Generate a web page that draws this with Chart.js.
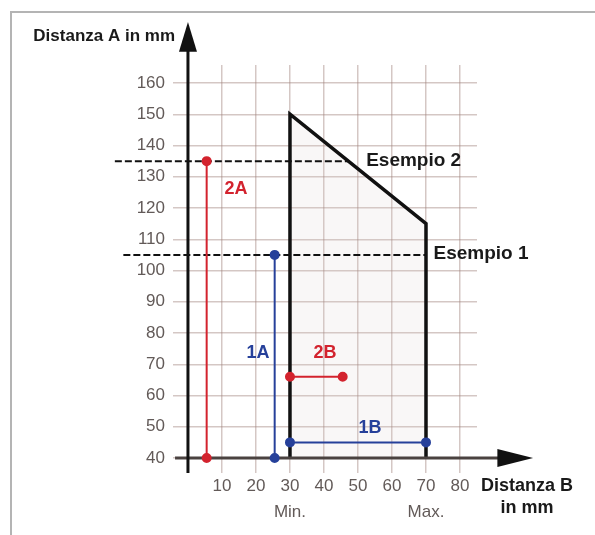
<!DOCTYPE html>
<html>
<head>
<meta charset="utf-8">
<script src="https://cdn.jsdelivr.net/npm/chart.js@4/dist/chart.umd.min.js"></script>
<style>
  body { margin: 0; background: #fff; }
  #wrap { position: relative; width: 595px; height: 535px; overflow: hidden; }
  #frame { position: absolute; left: 10px; top: 11px; width: 600px; height: 600px; border-left: 2px solid #b4b4b4; border-top: 2px solid #b4b4b4; }
  canvas { position: absolute; left: 0; top: 0; }
</style>
</head>
<body>
<div id="wrap"><div id="frame"></div><canvas id="chart" width="595" height="535"></canvas></div>
<script>
// tick labels
const xTicks = [10, 20, 30, 40, 50, 60, 70, 80];
const yTicks = [40, 50, 60, 70, 80, 90, 100, 110, 120, 130, 140, 150, 160];
const xTickNotes = { 30: 'Min.', 70: 'Max.' };

// allowed area (Distanza B vs Distanza A)
const areaX = [30, 30, 70, 70];
const areaY = [40, 150, 115, 40];

// Esempio 1 / Esempio 2 dashed lines
const esempio1X = [-19, 70];
const esempio1Y = [105, 105];
const esempio2X = [-21.5, 47.1];
const esempio2Y = [135, 135];

// measurement lines
const x1A = [25.5, 25.5];
const y1A = [40, 105];
const x1B = [30, 70];
const y1B = [45, 45];
const x2A = [5.5, 5.5];
const y2A = [40, 135];
const x2B = [30, 45.5];
const y2B = [66, 66];

// axis lines
const yAxisX = [0, 0];
const yAxisY = [35.2, 170.5];
const xAxisX = [-3.8, 91.5];
const xAxisY = [40, 40];

const red = '#d3232e';
const blue = '#26409a';

function pts(xs, ys) {
  return xs.map((x, i) => ({ x: x, y: ys[i] }));
}

function seg(xs, ys, color, width, opts) {
  return Object.assign({
    data: pts(xs, ys),
    showLine: true,
    borderColor: color,
    backgroundColor: color,
    borderWidth: width,
    pointRadius: 0,
    clip: false
  }, opts || {});
}

const texts = [
  { t: 'Distanza A in mm', x: -3.8, y: 175, align: 'right', font: 'bold 17px "Liberation Sans", Arial', color: '#1a1a1a' },
  { t: 'Distanza B', x: 99.7, y: 31, align: 'center', font: 'bold 18px "Liberation Sans", Arial', color: '#1a1a1a' },
  { t: 'in mm', x: 99.7, y: 24, align: 'center', font: 'bold 18px "Liberation Sans", Arial', color: '#1a1a1a' },
  { t: 'Esempio 2', x: 52.4, y: 135.2, align: 'left', font: 'bold 19px "Liberation Sans", Arial', color: '#1a1a1a' },
  { t: 'Esempio 1', x: 72.2, y: 105.3, align: 'left', font: 'bold 19px "Liberation Sans", Arial', color: '#1a1a1a' },
  { t: '2A', x: 14.1, y: 126.2, align: 'center', font: 'bold 18px "Liberation Sans", Arial', color: red },
  { t: '1A', x: 20.6, y: 73.6, align: 'center', font: 'bold 18px "Liberation Sans", Arial', color: blue },
  { t: '2B', x: 40.3, y: 73.6, align: 'center', font: 'bold 18px "Liberation Sans", Arial', color: red },
  { t: '1B', x: 53.5, y: 49.6, align: 'center', font: 'bold 18px "Liberation Sans", Arial', color: blue }
];

const decor = {
  id: 'decor',
  afterDatasetsDraw(chart) {
    const ctx = chart.ctx;
    const xs = chart.scales.x;
    const ys = chart.scales.y;
    ctx.save();
    // arrow heads
    ctx.fillStyle = '#111';
    let cx = xs.getPixelForValue(0);
    let tip = ys.getPixelForValue(179.5);
    let base = ys.getPixelForValue(170);
    ctx.beginPath();
    ctx.moveTo(cx, tip);
    ctx.lineTo(cx + 9, base);
    ctx.lineTo(cx - 9, base);
    ctx.closePath();
    ctx.fill();
    let cy = ys.getPixelForValue(40);
    tip = xs.getPixelForValue(101.5);
    base = xs.getPixelForValue(91);
    ctx.beginPath();
    ctx.moveTo(tip, cy);
    ctx.lineTo(base, cy - 9);
    ctx.lineTo(base, cy + 9);
    ctx.closePath();
    ctx.fill();
    // texts
    ctx.textBaseline = 'middle';
    texts.forEach(d => {
      ctx.font = d.font;
      ctx.fillStyle = d.color;
      ctx.textAlign = d.align;
      ctx.fillText(d.t, xs.getPixelForValue(d.x), ys.getPixelForValue(d.y));
    });
    ctx.restore();
  }
};

const tickFont = { family: '"Liberation Sans", Arial', size: 17, lineHeight: 1.5 };
const gridColor = 'rgba(160, 130, 125, 0.45)';

new Chart(document.getElementById('chart'), {
  type: 'scatter',
  data: {
    datasets: [
      seg(x2A, y2A, red, 2, { pointRadius: 4, order: 1 }),
      seg(x2B, y2B, red, 2, { pointRadius: 4, order: 1 }),
      seg(x1A, y1A, blue, 2, { pointRadius: 4, order: 1 }),
      seg(x1B, y1B, blue, 2, { pointRadius: 4, order: 1 }),
      seg(esempio1X, esempio1Y, '#111', 2, { borderDash: [7, 3], order: 2 }),
      seg(esempio2X, esempio2Y, '#111', 2, { borderDash: [7, 3], order: 2 }),
      seg(yAxisX, yAxisY, '#111', 3, { order: 3 }),
      seg(xAxisX, xAxisY, '#4a4240', 3, { order: 3 }),
      seg(areaX, areaY, '#111', 3.5, {
        backgroundColor: 'rgba(215, 200, 200, 0.15)',
        fill: { value: 40 },
        borderJoinStyle: 'miter',
        order: 4
      })
    ]
  },
  options: {
    responsive: false,
    animation: false,
    layout: { padding: { left: 113, right: 118, top: 65, bottom: 0 } },
    plugins: {
      legend: { display: false },
      tooltip: { enabled: false }
    },
    scales: {
      x: {
        type: 'linear',
        min: -4.4,
        max: 85,
        border: { display: false },
        grid: { color: gridColor, lineWidth: 1.5, drawTicks: false },
        afterBuildTicks: axis => { axis.ticks = xTicks.map(v => ({ value: v })); },
        afterFit: axis => { axis.height = 62; },
        ticks: {
          padding: 1,
          maxRotation: 0,
          color: '#625a58',
          font: tickFont,
          callback: v => xTickNotes[v] ? [String(v), xTickNotes[v]] : String(v)
        }
      },
      y: {
        type: 'linear',
        min: 35.2,
        max: 165.76,
        border: { display: false },
        grid: { color: gridColor, lineWidth: 1.5, drawTicks: false },
        afterBuildTicks: axis => { axis.ticks = yTicks.map(v => ({ value: v })); },
        afterFit: axis => { axis.width = 60; },
        ticks: {
          padding: 8,
          color: '#625a58',
          font: { family: '"Liberation Sans", Arial', size: 17 }
        }
      }
    }
  },
  plugins: [decor]
});
</script>
</body>
</html>
